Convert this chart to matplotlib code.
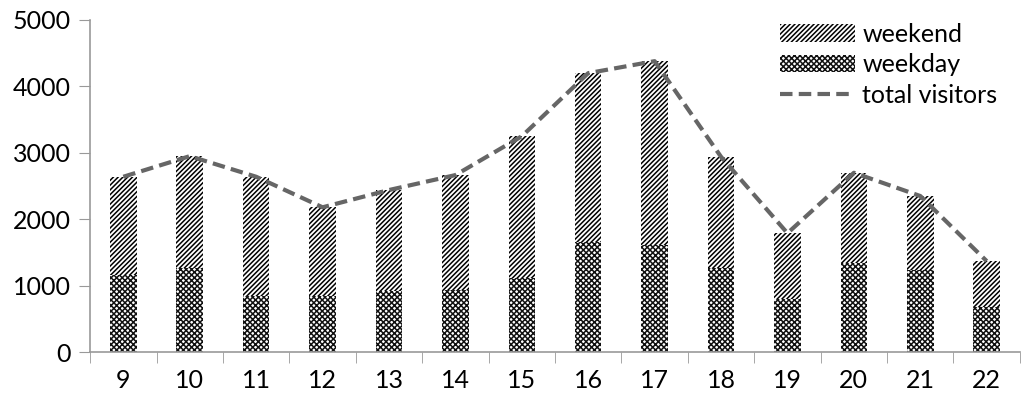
import matplotlib
matplotlib.use("Agg")
import matplotlib.pyplot as plt
import numpy as np

plt.rcParams['font.family'] = ['Lato', 'DejaVu Sans']
plt.rcParams['hatch.linewidth'] = 1.1

hours = ['9', '10', '11', '12', '13', '14', '15', '16', '17', '18', '19', '20', '21', '22']
weekday = [1160, 1265, 845, 845, 920, 935, 1115, 1660, 1610, 1270, 800, 1340, 1235, 680]
total = [2640, 2950, 2640, 2180, 2440, 2665, 3250, 4200, 4380, 2940, 1790, 2700, 2350, 1370]
weekend = [t - w for t, w in zip(total, weekday)]

x = np.arange(len(hours))
fig = plt.figure(figsize=(10.24, 4.08), dpi=100)
ax = fig.add_axes([0.088, 0.137, 0.908, 0.814])

b1 = ax.bar(x, weekday, 0.4, color='white', edgecolor='#111111', linewidth=0, hatch='xxxxxx')
b2 = ax.bar(x, weekend, 0.4, bottom=weekday, color='white', edgecolor='black', linewidth=0, hatch='///////')
ln, = ax.plot(x, total, '--', color='#666666', linewidth=3, dashes=(3, 1.5))

ax.set_xlim(-0.5, len(hours) - 0.5)
ax.set_ylim(0, 5000)
ax.set_yticks(range(0, 5001, 1000))
ax.set_xticks(x)
ax.set_xticklabels(hours)
ax.set_xticks(np.arange(-0.5, len(hours)), minor=True)
ax.tick_params(axis='x', which='major', length=0, pad=12, labelsize=18)
ax.tick_params(axis='x', which='minor', length=8, color='#999999', direction='out')
ax.tick_params(axis='y', length=8, color='#999999', labelsize=18, pad=6)
for s in ['top', 'right']:
    ax.spines[s].set_visible(False)
for s in ['left', 'bottom']:
    ax.spines[s].set_color('#999999')
    ax.spines[s].set_linewidth(1.2)

ax.legend([b2, b1, ln], ['weekend', 'weekday', 'total visitors'], loc='upper right',
          bbox_to_anchor=(1.0, 1.06), frameon=False, fontsize=18, handlelength=3.0,
          handletextpad=0.3, labelspacing=0.3)

fig.savefig('out.png', dpi=100)
